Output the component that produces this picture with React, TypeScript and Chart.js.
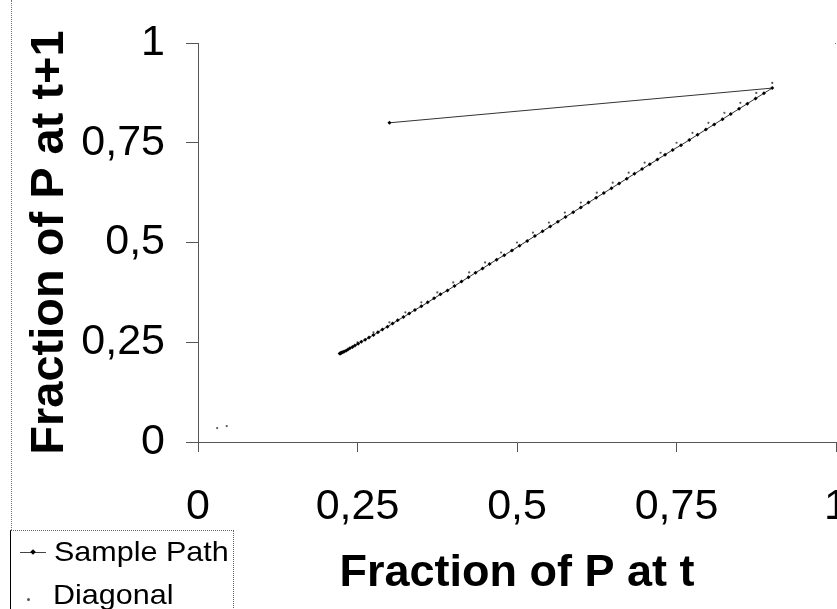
import React, { useEffect, useRef } from 'react';
import { Chart, registerables } from 'chart.js';

Chart.register(...registerables);

// ---- data ----
const xTickValues = [0, 0.25, 0.5, 0.75, 1];
const xTickLabels = ['0', '0,25', '0,5', '0,75', '1'];
const yTickValues = [0, 0.25, 0.5, 0.75, 1];
const yTickLabels = ['0', '0,25', '0,5', '0,75', '1'];

const samplePathX = [
  0.30, 0.90, 0.887, 0.874, 0.861, 0.848, 0.835, 0.822, 0.809, 0.796, 0.783, 0.770,
  0.757, 0.744, 0.732, 0.720, 0.708, 0.696, 0.684, 0.672, 0.660, 0.648, 0.636, 0.624,
  0.612, 0.600, 0.588, 0.576, 0.564, 0.552, 0.540, 0.528, 0.516, 0.504, 0.492, 0.480,
  0.468, 0.457, 0.446, 0.435, 0.424, 0.413, 0.402, 0.391, 0.380, 0.370, 0.360, 0.350,
  0.340, 0.331, 0.322, 0.313, 0.305, 0.297, 0.289, 0.282, 0.275, 0.268, 0.262, 0.256,
  0.251, 0.246, 0.242, 0.238, 0.235, 0.232, 0.229, 0.227, 0.225, 0.224, 0.223, 0.222,
];
const samplePathY = [
  0.80, 0.887, 0.874, 0.861, 0.848, 0.835, 0.822, 0.809, 0.796, 0.783, 0.770, 0.757,
  0.744, 0.732, 0.720, 0.708, 0.696, 0.684, 0.672, 0.660, 0.648, 0.636, 0.624, 0.612,
  0.600, 0.588, 0.576, 0.564, 0.552, 0.540, 0.528, 0.516, 0.504, 0.492, 0.480, 0.468,
  0.457, 0.446, 0.435, 0.424, 0.413, 0.402, 0.391, 0.380, 0.370, 0.360, 0.350, 0.340,
  0.331, 0.322, 0.313, 0.305, 0.297, 0.289, 0.282, 0.275, 0.268, 0.262, 0.256, 0.251,
  0.246, 0.242, 0.238, 0.235, 0.232, 0.229, 0.227, 0.225, 0.224, 0.223, 0.222, 0.222,
];

const diagonalX = [
  0, 0.03, 0.045, 0.25, 0.275, 0.30, 0.325, 0.35, 0.375, 0.40, 0.425, 0.45, 0.475, 0.50,
  0.525, 0.55, 0.575, 0.60, 0.625, 0.65, 0.675, 0.70, 0.725, 0.75, 0.775, 0.80, 0.825,
  0.85, 0.875, 0.90, 1.0,
];
const diagonalY = [
  0, 0.035, 0.04, 0.25, 0.275, 0.30, 0.325, 0.35, 0.375, 0.40, 0.425, 0.45, 0.475, 0.50,
  0.525, 0.55, 0.575, 0.60, 0.625, 0.65, 0.675, 0.70, 0.725, 0.75, 0.775, 0.80, 0.825,
  0.85, 0.875, 0.90, 1.0,
];

const FONT = "'Liberation Sans', Arial, sans-serif";

export default function App() {
  const canvasRef = useRef<HTMLCanvasElement | null>(null);

  useEffect(() => {
    const canvas = canvasRef.current;
    if (!canvas) return;
    const chart = new Chart(canvas, {
      type: 'scatter',
      data: {
        datasets: [
          {
            label: 'Sample Path',
            data: samplePathX.map((x, i) => ({ x, y: samplePathY[i] })),
            showLine: true,
            borderColor: '#333',
            borderWidth: 1,
            pointStyle: 'rectRot',
            pointRadius: 2,
            pointBackgroundColor: '#000',
            pointBorderColor: '#000',
            pointBorderWidth: 0,
          },
          {
            label: 'Diagonal',
            data: diagonalX.map((x, i) => ({ x, y: diagonalY[i] })),
            showLine: false,
            pointStyle: 'circle',
            pointRadius: 1.1,
            pointBackgroundColor: '#555',
            pointBorderColor: '#555',
            pointBorderWidth: 0,
          },
        ],
      },
      options: {
        responsive: false,
        animation: false,
        devicePixelRatio: 1,
        layout: { padding: { left: 0, right: 0, top: 43, bottom: 0 } },
        plugins: {
          legend: { display: false },
          tooltip: { enabled: false },
        },
        scales: {
          x: {
            type: 'linear',
            min: 0,
            max: 1,
            afterBuildTicks: (scale: any) => {
              scale.ticks = xTickValues.map((v) => ({ value: v }));
            },
            afterFit: (scale: any) => {
              scale.height = 167;
            },
            ticks: {
              padding: 29,
              color: '#000',
              font: { family: FONT, size: 43 },
              maxRotation: 0,
              autoSkip: false,
              callback: (v: any) => {
                const i = xTickValues.indexOf(Number(v));
                return i >= 0 ? xTickLabels[i] : '';
              },
            },
            grid: {
              drawOnChartArea: false,
              drawTicks: true,
              tickLength: 10,
              color: '#555',
            },
            border: { display: true, color: '#555', width: 1 },
            title: {
              display: true,
              text: 'Fraction of P at t',
              color: '#000',
              font: { family: FONT, size: 45, weight: 'bold' },
              padding: { top: 0, bottom: 8 },
            },
          },
          y: {
            type: 'linear',
            min: 0,
            max: 1,
            afterBuildTicks: (scale: any) => {
              scale.ticks = yTickValues.map((v) => ({ value: v }));
            },
            afterFit: (scale: any) => {
              scale.width = 198;
            },
            ticks: {
              padding: 21,
              color: '#000',
              font: { family: FONT, size: 43, lineHeight: 1 },
              autoSkip: false,
              callback: (v: any) => {
                const i = yTickValues.indexOf(Number(v));
                return i >= 0 ? yTickLabels[i] : '';
              },
            },
            grid: {
              drawOnChartArea: false,
              drawTicks: true,
              tickLength: 12,
              color: '#555',
            },
            border: { display: true, color: '#555', width: 1 },
            title: {
              display: true,
              text: 'Fraction of P at t+1',
              color: '#000',
              font: { family: FONT, size: 47, weight: 'bold' },
              padding: { top: 22, bottom: 0 },
            },
          },
        },
      },
    } as any);
    return () => chart.destroy();
  }, []);

  return (
    <div
      style={{
        position: 'absolute',
        left: 0,
        top: 0,
        width: 837,
        height: 609,
        overflow: 'hidden',
        background: '#fff',
        fontFamily: FONT,
      }}
    >
      <canvas ref={canvasRef} width={877} height={609} style={{ display: 'block' }} />
      {/* left frame edge */}
      <div
        style={{
          position: 'absolute',
          left: 11,
          top: 0,
          width: 0,
          height: 530,
          borderLeft: '1px dotted #777',
        }}
      />
      {/* legend */}
      <div
        style={{
          position: 'absolute',
          left: 10,
          top: 530,
          width: 224,
          height: 100,
          borderLeft: '1px solid #000',
          borderTop: '1px dotted #666',
          borderRight: '1px dotted #666',
          boxSizing: 'border-box',
        }}
      />
      <div
        style={{
          position: 'absolute',
          left: 20,
          top: 552,
          width: 26,
          height: 0,
          borderTop: '1px solid #444',
        }}
      />
      <div
        style={{
          position: 'absolute',
          left: 31,
          top: 550,
          width: 4,
          height: 4,
          background: '#000',
          transform: 'rotate(45deg)',
        }}
      />
      <div
        style={{
          position: 'absolute',
          left: 27,
          top: 598,
          width: 3,
          height: 3,
          borderRadius: 2,
          background: '#555',
        }}
      />
      <div
        style={{
          position: 'absolute',
          left: 54,
          top: 538,
          fontSize: 28,
          lineHeight: '28px',
          color: '#000',
          whiteSpace: 'nowrap',
          transform: 'scaleX(1.09)',
          transformOrigin: 'left top',
        }}
      >
        Sample Path
      </div>
      <div
        style={{
          position: 'absolute',
          left: 53,
          top: 581,
          fontSize: 28,
          lineHeight: '28px',
          color: '#000',
          whiteSpace: 'nowrap',
          transform: 'scaleX(1.09)',
          transformOrigin: 'left top',
        }}
      >
        Diagonal
      </div>
    </div>
  );
}
